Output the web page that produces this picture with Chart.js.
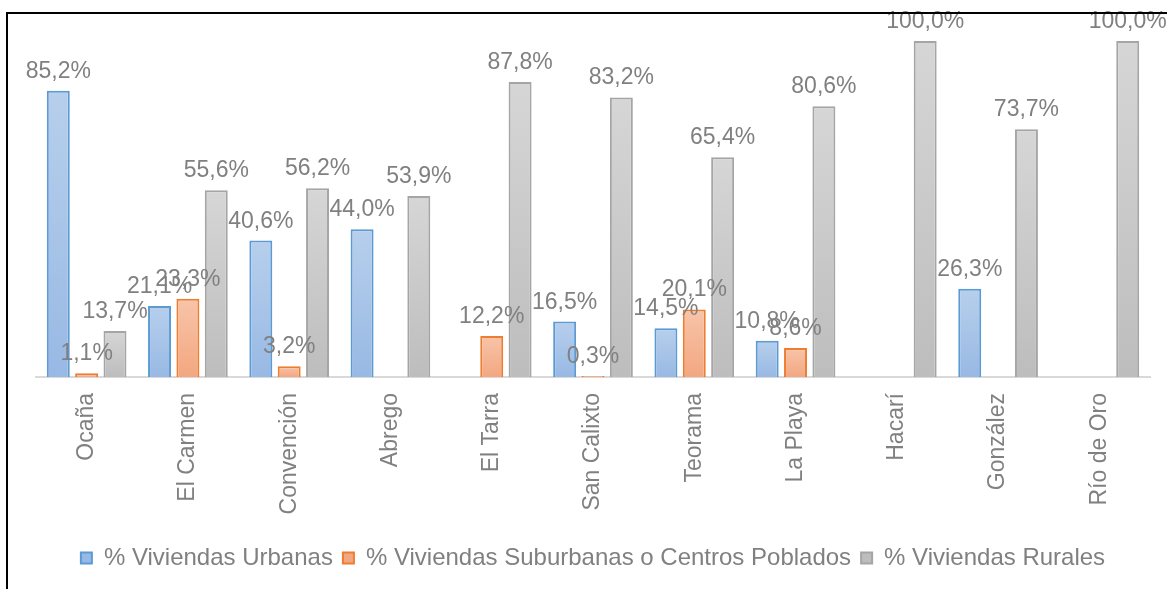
<!DOCTYPE html>
<html>
<head>
<meta charset="utf-8">
<script src="https://cdn.jsdelivr.net/npm/chart.js@4/dist/chart.umd.min.js"></script>
<style>
    html, body { margin: 0; padding: 0; background: #fff; }
    #wrap { position: relative; width: 1167px; height: 589px; overflow: hidden; }
    #frame {
        position: absolute; left: 6px; top: 12px; width: 1200px; height: 600px;
        border-left: 2px solid #000; border-top: 2px solid #000; pointer-events: none;
    }
</style>
</head>
<body>
<div id="wrap">
    <canvas id="viviendasChart" width="1167" height="589"></canvas>
    <div id="frame"></div>
</div>
<script>
// Municipios
const municipios = ['Ocaña', 'El Carmen', 'Convención', 'Abrego', 'El Tarra', 'San Calixto',
    'Teorama', 'La Playa', 'Hacarí', 'González', 'Río de Oro'];

// Porcentajes por tipo de vivienda (null = sin dato / sin etiqueta)
const pctUrbanas    = [85.2, 21.1, 40.6, 44.0, null, 16.5, 14.5, 10.8, null, 26.3, null];
const pctSuburbanas = [1.1, 23.3, 3.2, null, 12.2, 0.3, 20.1, 8.6, null, null, null];
const pctRurales    = [13.7, 55.6, 56.2, 53.9, 87.8, 83.2, 65.4, 80.6, 100.0, 73.7, 100.0];

const serieNombres = ['% Viviendas Urbanas', '% Viviendas Suburbanas o Centros Poblados', '% Viviendas Rurales'];

const TEXT_GREY = '#808080';
const FONT = "'Liberation Sans', Arial, sans-serif";

/**
 * Per-bar vertical gradient (light top, darker bottom)
 */
function barGradient(topColor, bottomColor) {
    return function(context) {
        const chart = context.chart;
        const yScale = chart.scales.y;
        if (!yScale || context.parsed == null || context.parsed.y == null) return bottomColor;
        const top = yScale.getPixelForValue(context.parsed.y);
        const base = yScale.getPixelForValue(0);
        if (!isFinite(top) || !isFinite(base) || top === base) return bottomColor;
        const g = chart.ctx.createLinearGradient(0, top, 0, base);
        g.addColorStop(0, topColor);
        g.addColorStop(1, bottomColor);
        return g;
    };
}

/**
 * Data labels above bars (es-CO format)
 */
const valueLabels = {
    id: 'valueLabels',
    afterDatasetsDraw(chart) {
        const ctx = chart.ctx;
        ctx.save();
        ctx.font = '23px ' + FONT;
        ctx.fillStyle = TEXT_GREY;
        ctx.textAlign = 'center';
        ctx.textBaseline = 'alphabetic';
        chart.data.datasets.forEach((ds, i) => {
            const meta = chart.getDatasetMeta(i);
            meta.data.forEach((bar, j) => {
                const v = ds.data[j];
                if (v == null) return;
                const txt = v.toFixed(1).replace('.', ',') + '%';
                ctx.fillText(txt, bar.x, bar.y - 13);
            });
        });
        ctx.restore();
    }
};

const ctx = document.getElementById('viviendasChart');

new Chart(ctx, {
    type: 'bar',
    data: {
        labels: municipios,
        datasets: [{
            label: serieNombres[0],
            data: pctUrbanas,
            backgroundColor: barGradient('#b7cfec', '#98b9e4'),
            borderColor: '#5b9bd5',
            borderWidth: 2
        }, {
            label: serieNombres[1],
            data: pctSuburbanas,
            backgroundColor: barGradient('#f8c4a9', '#f3a780'),
            borderColor: '#ed7d31',
            borderWidth: 2
        }, {
            label: serieNombres[2],
            data: pctRurales,
            backgroundColor: barGradient('#d6d6d6', '#bdbdbd'),
            borderColor: '#a5a5a5',
            borderWidth: 2
        }]
    },
    options: {
        responsive: false,
        animation: false,
        layout: {
            padding: { top: 41, left: 36, right: 17, bottom: 9 }
        },
        datasets: {
            bar: {
                barPercentage: 0.81,
                categoryPercentage: 0.84
            }
        },
        scales: {
            x: {
                grid: { display: false, drawTicks: false },
                border: { display: true, color: '#d9d9d9', width: 2 },
                ticks: {
                    color: TEXT_GREY,
                    font: { family: FONT, size: 23 },
                    minRotation: 90,
                    maxRotation: 90,
                    autoSkip: false,
                    padding: 16
                },
                afterFit: function(scale) {
                    scale.height = 159;
                }
            },
            y: {
                display: false,
                min: 0,
                max: 100
            }
        },
        plugins: {
            legend: {
                position: 'bottom',
                labels: {
                    color: TEXT_GREY,
                    font: { family: FONT, size: 24 },
                    boxWidth: 11,
                    boxHeight: 11,
                    padding: 10
                }
            },
            tooltip: { enabled: false },
            title: { display: false }
        }
    },
    plugins: [valueLabels]
});
</script>
</body>
</html>
